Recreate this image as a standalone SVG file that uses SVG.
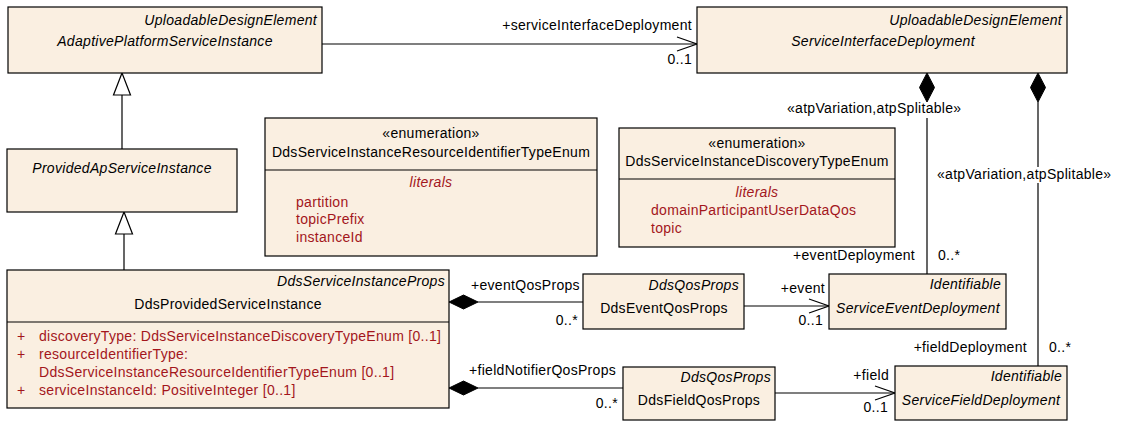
<svg xmlns="http://www.w3.org/2000/svg" width="1124" height="421" viewBox="0 0 1124 421">
<style>
text{font-family:"Liberation Sans",Arial,sans-serif;font-size:14px;letter-spacing:0.3px;fill:#000}
.box{fill:#FAEFE1;stroke:#000;stroke-width:1.2}
.it{font-style:italic}
.r{text-anchor:end}
.m{text-anchor:middle}
.red{fill:#A3161C}
.ln{stroke:#000;stroke-width:1.2;fill:none}
.dia{fill:#000;stroke:#000}
.tri{fill:#fff;stroke:#000;stroke-width:1.2}
</style>
<rect width="1124" height="421" fill="#fff"/>

<g id="connectors">
  <line class="ln" x1="322" y1="44" x2="697" y2="44"/>
  <polyline class="ln" points="677,37 697,44 677,51"/>
  <line class="ln" x1="122" y1="95" x2="122" y2="149"/>
  <polygon class="tri" points="122,73 130.5,95 113.5,95"/>
  <line class="ln" x1="124" y1="234" x2="124" y2="270"/>
  <polygon class="tri" points="124,212 132.5,234 115.5,234"/>
  <line class="ln" x1="478" y1="302" x2="583" y2="302"/>
  <polygon class="dia" points="449,302 463.5,295 478,302 463.5,309"/>
  <line class="ln" x1="478" y1="388" x2="623" y2="388"/>
  <polygon class="dia" points="449,388 463.5,381 478,388 463.5,395"/>
  <line class="ln" x1="744" y1="306" x2="829" y2="306"/>
  <polyline class="ln" points="809,299 829,306 809,313"/>
  <line class="ln" x1="775" y1="393" x2="895" y2="393"/>
  <polyline class="ln" points="875,386 895,393 875,400"/>
  <line class="ln" x1="927" y1="102" x2="927" y2="274"/>
  <polygon class="dia" points="927,73 934.5,87.5 927,102 919.5,87.5"/>
  <line class="ln" x1="1038" y1="102" x2="1038" y2="366"/>
  <polygon class="dia" points="1038,73 1045.5,87.5 1038,102 1030.5,87.5"/>
  <rect x="786" y="102" width="185" height="16" fill="#fff"/>
  <rect x="1030" y="167" width="16" height="16" fill="#fff"/>

  <text class="r" x="692" y="30">+serviceInterfaceDeployment</text>
  <text class="r" x="692" y="64">0..1</text>
  <text x="471" y="290">+eventQosProps</text>
  <text class="r" x="578" y="325">0..*</text>
  <text x="469" y="375">+fieldNotifierQosProps</text>
  <text class="r" x="618" y="408">0..*</text>
  <text class="r" x="825" y="293">+event</text>
  <text class="r" x="823" y="325">0..1</text>
  <text class="r" x="889" y="380">+field</text>
  <text class="r" x="888" y="412">0..1</text>
  <text class="r" x="915" y="260">+eventDeployment</text>
  <text x="938" y="260">0..*</text>
  <text class="r" x="1027" y="352">+fieldDeployment</text>
  <text x="1049" y="352">0..*</text>
  <text x="787" y="113">«atpVariation,atpSplitable»</text>
  <text x="937" y="179">«atpVariation,atpSplitable»</text>
</g>

<g id="AdaptivePlatformServiceInstance">
  <rect class="box" x="8" y="7" width="314" height="66"/>
  <text class="it r" x="317" y="25">UploadableDesignElement</text>
  <text class="it m" x="165" y="46">AdaptivePlatformServiceInstance</text>
</g>

<g id="ServiceInterfaceDeployment">
  <rect class="box" x="697" y="7" width="370" height="66"/>
  <text class="it r" x="1062" y="25">UploadableDesignElement</text>
  <text class="it m" x="883" y="46">ServiceInterfaceDeployment</text>
</g>

<g id="ProvidedApServiceInstance">
  <rect class="box" x="7" y="149" width="230" height="63"/>
  <text class="it m" x="122" y="173">ProvidedApServiceInstance</text>
</g>

<g id="DdsServiceInstanceResourceIdentifierTypeEnum">
  <rect class="box" x="265" y="118" width="332" height="138"/>
  <line class="ln" x1="265" y1="170" x2="597" y2="170"/>
  <text class="m" x="431" y="138">«enumeration»</text>
  <text class="m" x="431" y="157">DdsServiceInstanceResourceIdentifierTypeEnum</text>
  <text class="it m red" x="431" y="187">literals</text>
  <text class="red" x="296" y="207">partition</text>
  <text class="red" x="296" y="224">topicPrefix</text>
  <text class="red" x="296" y="242">instanceId</text>
</g>

<g id="DdsServiceInstanceDiscoveryTypeEnum">
  <rect class="box" x="619" y="128" width="276" height="119"/>
  <line class="ln" x1="619" y1="179" x2="895" y2="179"/>
  <text class="m" x="757" y="148">«enumeration»</text>
  <text class="m" x="757" y="166">DdsServiceInstanceDiscoveryTypeEnum</text>
  <text class="it m red" x="757" y="197">literals</text>
  <text class="red" x="651" y="215">domainParticipantUserDataQos</text>
  <text class="red" x="651" y="233">topic</text>
</g>

<g id="DdsProvidedServiceInstance">
  <rect class="box" x="7" y="270" width="442" height="138"/>
  <line class="ln" x1="7" y1="322" x2="449" y2="322"/>
  <text class="it r" x="445" y="286">DdsServiceInstanceProps</text>
  <text class="m" x="228" y="309">DdsProvidedServiceInstance</text>
  <text class="red" x="17" y="341">+</text>
  <text class="red" x="39" y="341">discoveryType: DdsServiceInstanceDiscoveryTypeEnum [0..1]</text>
  <text class="red" x="17" y="359">+</text>
  <text class="red" x="39" y="359">resourceIdentifierType:</text>
  <text class="red" x="39" y="377">DdsServiceInstanceResourceIdentifierTypeEnum [0..1]</text>
  <text class="red" x="17" y="395">+</text>
  <text class="red" x="39" y="395">serviceInstanceId: PositiveInteger [0..1]</text>
</g>

<g id="DdsEventQosProps">
  <rect class="box" x="583" y="274" width="161" height="55"/>
  <text class="it r" x="739" y="290">DdsQosProps</text>
  <text class="m" x="664" y="313">DdsEventQosProps</text>
</g>

<g id="DdsFieldQosProps">
  <rect class="box" x="623" y="367" width="152" height="53"/>
  <text class="it r" x="771" y="382">DdsQosProps</text>
  <text class="m" x="699" y="405">DdsFieldQosProps</text>
</g>

<g id="ServiceEventDeployment">
  <rect class="box" x="829" y="274" width="177" height="55"/>
  <text class="it r" x="1001" y="289">Identifiable</text>
  <text class="it m" x="918" y="313">ServiceEventDeployment</text>
</g>

<g id="ServiceFieldDeployment">
  <rect class="box" x="895" y="366" width="172" height="54"/>
  <text class="it r" x="1062" y="381">Identifiable</text>
  <text class="it m" x="981" y="405">ServiceFieldDeployment</text>
</g>
</svg>
